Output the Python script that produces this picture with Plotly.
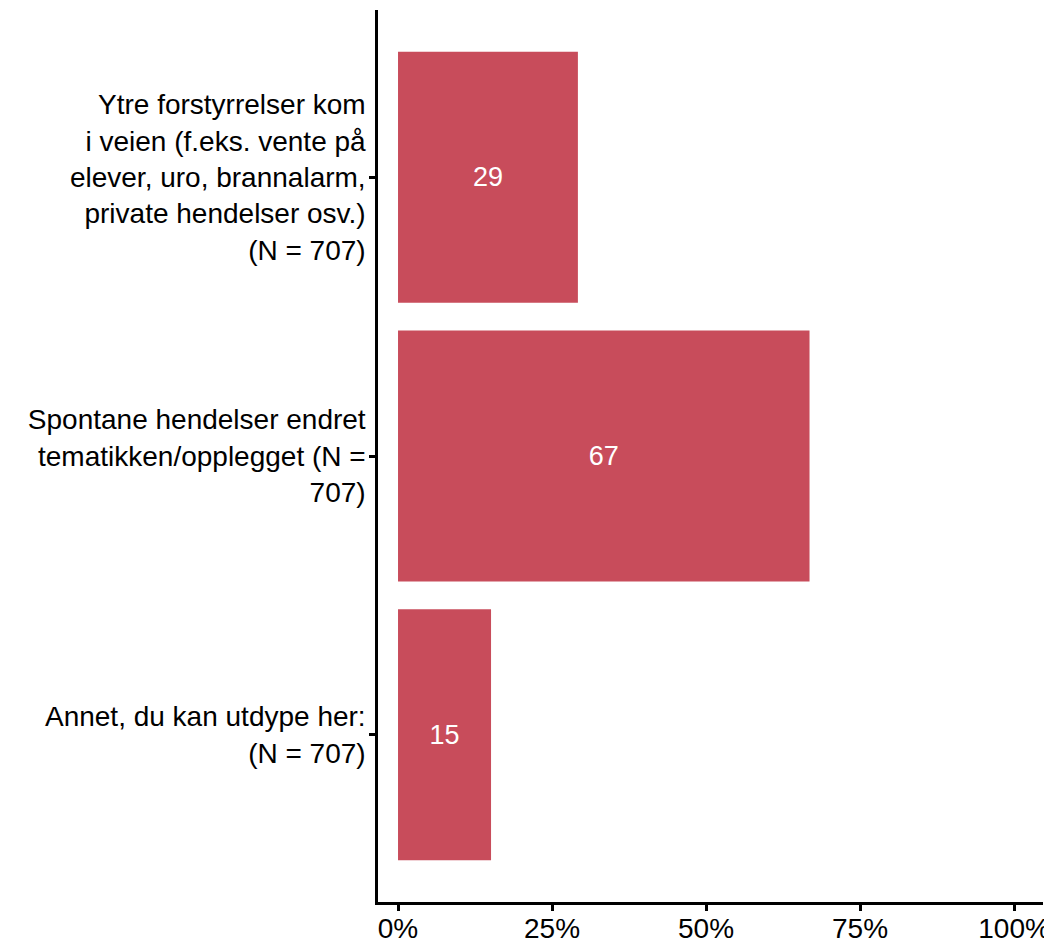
import plotly.graph_objects as go

categories = [
    "Ytre forstyrrelser kom<br>i veien (f.eks. vente på<br>elever, uro, brannalarm,<br>private hendelser osv.)<br>(N = 707)",
    "Spontane hendelser endret<br>tematikken/opplegget (N =<br>707)",
    "Annet, du kan utdype her:<br>(N = 707)",
]
values = [29.2, 66.8, 15.1]
labels = ["29", "67", "15"]
x_ticks = [0, 25, 50, 75, 100]
x_tick_text = ["0%", "25%", "50%", "75%", "100%"]

FONT = "Liberation Sans, Arial, Helvetica, sans-serif"

fig = go.Figure(go.Bar(
    y=categories,
    x=values,
    orientation="h",
    width=0.9,
    marker=dict(color="#C84C5B", line=dict(width=0)),
    text=labels,
    textposition="inside",
    insidetextanchor="middle",
    textangle=0,
    textfont=dict(color="white", size=27, family=FONT),
    hoverinfo="skip",
))

# the page body adds an 8px offset, so the figure is sized to fit the window
fig.update_layout(
    width=1044,
    height=935,
    margin=dict(l=370, r=9, t=2, b=41, autoexpand=False),
    plot_bgcolor="white",
    paper_bgcolor="white",
    font=dict(family=FONT, size=28, color="black"),
    showlegend=False,
)

fig.update_xaxes(
    range=[-3.25, 104.7],
    tickvals=x_ticks,
    ticktext=x_tick_text,
    showgrid=False,
    zeroline=False,
    showline=True,
    linecolor="black",
    linewidth=2.5,
    ticks="outside",
    ticklen=6,
    tickwidth=2.5,
    tickcolor="black",
    tickfont=dict(size=28, color="black"),
    ticklabelstandoff=-6,
    automargin=False,
)

fig.update_yaxes(
    type="category",
    categoryorder="array",
    categoryarray=categories,
    range=[2.6, -0.6],
    showgrid=False,
    zeroline=False,
    showline=True,
    linecolor="black",
    linewidth=2.5,
    ticks="outside",
    ticklen=6,
    tickwidth=2.5,
    tickcolor="black",
    tickfont=dict(size=28, color="black"),
    ticklabelstandoff=-2,
    automargin=False,
)

fig.write_html("out.html")
